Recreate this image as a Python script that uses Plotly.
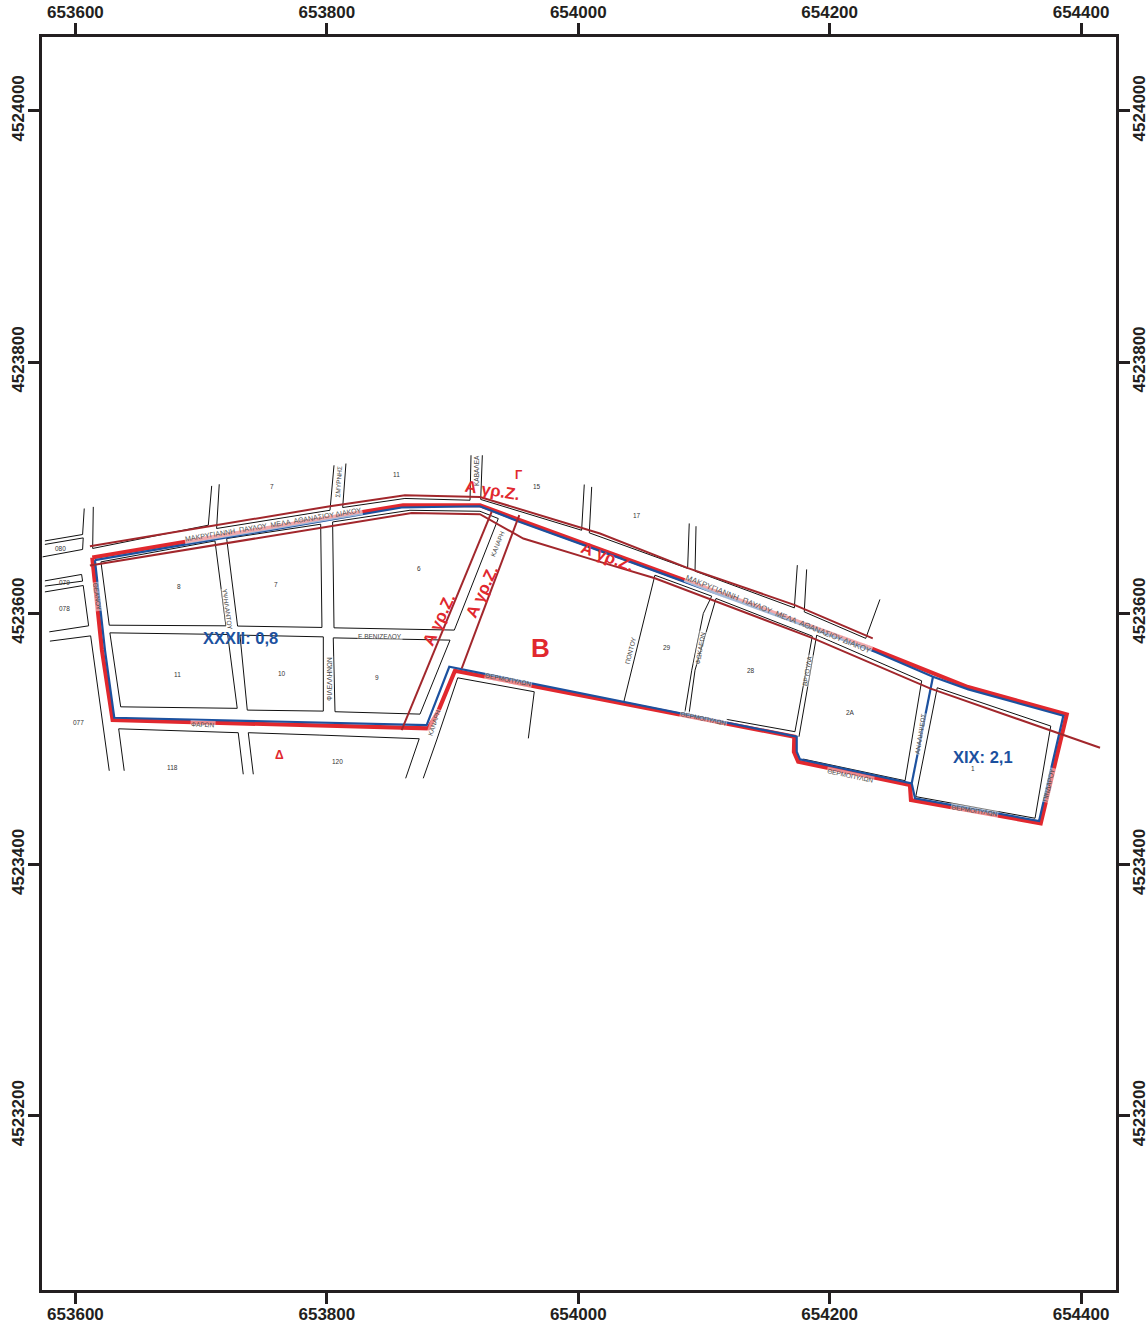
import plotly.graph_objects as go

# ---- map axes (projected metres) ----
X_TICKS = [653600, 653800, 654000, 654200, 654400]
Y_TICKS = [4523200, 4523400, 4523600, 4523800, 4524000]
X_RANGE = [653573.4, 654427.8]
Y_RANGE = [4523061.2, 4524058.8]

# ---- zone boundary (red) ----
RED_X = [653613.4, 653860.6, 653921.8, 653953.6, 654232.1, 654281.4, 654310.1, 654388.6, 654367.9,
         654264.7, 654263.9, 654175.0, 654171.6, 654171.9, 653901.9, 653888.4, 653880.7, 653629.6,
         653621.1, 653613.4]
RED_Y = [4523644.4, 4523686.0, 4523686.0, 4523674.1, 4523572.3, 4523552.4, 4523541.2, 4523519.5, 4523432.8,
         4523451.3, 4523463.3, 4523481.8, 4523489.7, 4523501.7, 4523554.2, 4523521.6, 4523508.4, 4523515.0,
         4523570.7, 4523644.4]

# ---- sector boundary (blue) ----
BLUE_X = [653615.5, 653807.8, 653859.5, 653921.8, 653953.6, 654033.2, 654236.1, 654282.2, 654310.3, 654385.9,
          654366.6, 654267.9, 654265.3, 654176.4, 654173.8, 654173.8, 653897.4, 653879.4, 653630.9, 653623.5,
          653615.5, None, 654282.2, 654265.3]
BLUE_Y = [4523642.3, 4523675.7, 4523684.2, 4523685.2, 4523672.7, 4523643.9, 4523569.3, 4523549.4, 4523539.4, 4523518.4,
          4523434.6, 4523452.7, 4523464.6, 4523483.7, 4523489.7, 4523501.7, 4523557.4, 4523511.0, 4523516.8, 4523570.7,
          4523642.3, None, 4523549.4, 4523464.6]

# ---- zone A strips (dark red) ----
STRIP_X = [
    [653611.5, 653705.7, 653802.5, 653862.1, 653921.8, 654017.3, 654087.3, 654172.4, 654234.3],
    [653611.5, 653794.5, 653867.5, 653921.8, 653956.3, 654017.3, 654061.0, 654187.0, 654240.0, 654279.8, 654415.1],
    [653931.1, 653859.5],
    [653953.1, 653907.3],
]
STRIP_Y = [
    [4523653.4, 4523669.3, 4523685.2, 4523694.0, 4523692.6, 4523663.5, 4523635.9, 4523606.5, 4523580.0],
    [4523638.0, 4523668.0, 4523679.9, 4523678.9, 4523659.5, 4523640.9, 4523627.9, 4523580.0, 4523557.4, 4523540.2, 4523492.9],
    [4523680.7, 4523507.0],
    [4523678.1, 4523556.1],
]

# ---- street blocks (black) ----
BLOCK_X = [
    [653575.7, 653605.7, 653607.0],
    [653573.9, 653605.7, 653606.2, 653575.7],
    [653575.7, 653604.9, 653605.7, 653575.7],
    [653575.7, 653606.2, 653610.5, 653579.2],
    [653579.7, 653612.1, 653626.9],
    [653614.2, 653613.7, 653705.7, 653708.4],
    [653714.4, 653712.3, 653802.5, 653805.7],
    [653815.2, 653812.6, 653862.1, 653913.9, 653914.7],
    [653923.7, 653922.4, 654002.7, 654004.8],
    [654010.7, 654008.8, 654087.0, 654088.3],
    [654093.7, 654092.9, 654171.9, 654174.3],
    [654181.7, 654179.8, 654228.7, 654240.0],
    [653620.3, 653711.0, 653719.7, 653626.9, 653620.3],
    [653720.3, 653795.1, 653796.1, 653729.0, 653720.3],
    [653804.6, 653866.1, 653921.8, 653936.4, 653901.4, 653805.7, 653804.6],
    [653627.4, 653721.1, 653728.7, 653636.0, 653627.4],
    [653730.9, 653797.2, 653797.2, 653736.7, 653730.9],
    [653805.1, 653898.0, 653874.1, 653806.5, 653805.1],
    [653638.8, 653634.4, 653729.5, 653733.5],
    [653741.5, 653737.5, 653794.5, 653873.5, 653862.7],
    [653876.7, 653887.4, 653904.1, 653965.0, 653960.3],
    [654036.4, 654061.0, 654106.2, 654099.5, 654090.3, 654084.9],
    [654088.3, 654092.9, 654109.6, 654186.2, 654172.4, 654118.1],
    [654175.6, 654189.7, 654273.2, 654260.0, 654179.0],
    [654285.6, 654375.9, 654363.4, 654268.5, 654285.6],
]
BLOCK_Y = [
    [4523657.6, 4523662.7, 4523683.4],
    [4523644.9, 4523650.8, 4523660.0, 4523654.8],
    [4523625.8, 4523630.9, 4523625.6, 4523621.6],
    [4523617.0, 4523622.1, 4523590.0, 4523585.2],
    [4523577.8, 4523582.0, 4523474.6],
    [4523684.7, 4523651.6, 4523670.1, 4523701.4],
    [4523702.7, 4523667.5, 4523682.0, 4523717.8],
    [4523719.2, 4523684.2, 4523691.4, 4523690.0, 4523725.8],
    [4523725.8, 4523690.6, 4523666.1, 4523702.5],
    [4523700.6, 4523664.0, 4523635.7, 4523671.5],
    [4523669.3, 4523633.5, 4523604.3, 4523638.3],
    [4523634.9, 4523601.1, 4523580.0, 4523611.0],
    [4523640.9, 4523657.6, 4523590.0, 4523590.5, 4523640.9],
    [4523659.5, 4523670.9, 4523588.7, 4523589.8, 4523659.5],
    [4523672.7, 4523682.0, 4523681.2, 4523675.4, 4523586.6, 4523588.4, 4523672.7],
    [4523584.4, 4523583.1, 4523524.3, 4523525.5, 4523584.4],
    [4523582.6, 4523581.2, 4523522.1, 4523522.9, 4523582.6],
    [4523580.4, 4523578.6, 4523519.7, 4523521.6, 4523580.4],
    [4523474.6, 4523508.0, 4523504.9, 4523471.8],
    [4523471.8, 4523504.9, 4523503.0, 4523500.1, 4523468.6],
    [4523468.6, 4523499.1, 4523548.6, 4523537.5, 4523500.4],
    [4523530.1, 4523630.3, 4523613.6, 4523599.9, 4523554.7, 4523521.6],
    [4523521.1, 4523554.7, 4523611.8, 4523581.8, 4523505.7, 4523515.5],
    [4523501.7, 4523582.6, 4523546.2, 4523466.7, 4523483.9],
    [4523540.7, 4523510.2, 4523436.8, 4523454.0, 4523540.7],
]

# ---- block numbers ----
NUM_TEXT = ["080", "079", "078", "077", "8", "7", "6", "11", "10", "9", "118", "120", "7", "11", "15", "17", "29", "28", "2A", "1"]
NUM_X = [653588.5, 653590.9, 653590.9, 653602.8, 653682.3, 653759.5, 653873.3, 653680.8, 653764.3, 653839.9,
         653677.6, 653808.8, 653756.3, 653855.8, 653967.2, 654046.7, 654070.6, 654137.4, 654216.2, 654314.0]
NUM_Y = [4523651.8, 4523624.8, 4523604.1, 4523513.4, 4523621.6, 4523623.2, 4523635.9, 4523551.6, 4523552.4, 4523549.2,
         4523477.6, 4523482.3, 4523701.1, 4523710.7, 4523701.1, 4523678.1, 4523573.0, 4523554.7, 4523521.3, 4523476.8]

# ---- street names ----
STREET_TEXT = ["ΘΕΑΝΟΥ", "ΥΨΗΛΑΝΤΟΥ", "ΣΜΥΡΝΗΣ", "ΚΑΒΑΛΕΑ", "ΚΑΝΑΡΗ", "Ε.ΒΕΝΙΖΕΛΟΥ", "ΦΙΛΕΛΛΗΝΩΝ", "ΦΑΡΩΝ", "ΚΑΝΑΡΗ",
               "ΘΕΡΜΟΠΥΛΩΝ", "ΘΕΡΜΟΠΥΛΩΝ", "ΘΕΡΜΟΠΥΛΩΝ", "ΘΕΡΜΟΠΥΛΩΝ", "ΠΟΝΤΟΥ", "ΦΩΚΑΕΩΝ", "ΒΡΥΟΥΛΑ", "ΑΝΑΛΗΨΕΩΣ", "ΠΙΝΔΑΡΟΥ"]
STREET_X = [653617.7, 653721.1, 653809.1, 653918.6, 653935.9, 653842.3, 653801.9, 653701.7, 653885.5,
            653944.4, 654100.0, 654216.2, 654315.6, 654041.7, 654096.9, 654182.3, 654271.9, 654374.6]
STREET_Y = [4523613.6, 4523603.1, 4523705.1, 4523714.0, 4523655.5, 4523581.8, 4523548.1, 4523511.5, 4523512.8,
            4523547.6, 4523516.3, 4523471.2, 4523442.8, 4523570.1, 4523572.0, 4523554.2, 4523503.6, 4523463.3]
STREET_ANGLE = [82, 82, -86, -90, -68, 0, -90, 2, -72, 11, 12, 12, 9, -76, -80, -80, -81, -77]

LONG_TEXT = ["ΜΑΚΡΥΓΙΑΝΝΗ  ΠΑΥΛΟΥ  ΜΕΛΑ  ΑΘΑΝΑΣΙΟΥ ΔΙΑΚΟΥ", "ΜΑΚΡΥΓΙΑΝΝΗ  ΠΑΥΛΟΥ  ΜΕΛΑ  ΑΘΑΝΑΣΙΟΥ ΔΙΑΚΟΥ"]
LONG_X = [653757.4, 654159.7]
LONG_Y = [4523670.1, 4523599.3]
LONG_ANGLE = [-9.4, 21.8]
LONG_SIZE = [7.1, 7.9]

# ---- zone labels ----
ZONE_TEXT = ["Α γρ.Ζ.", "Α γρ.Ζ.", "Α γρ.Ζ.", "Α γρ.Ζ.", "Γ", "Β", "Δ"]
ZONE_X = [653931.9, 654022.9, 653889.2, 653923.4, 653952.8, 653970.3, 653762.7]
ZONE_Y = [4523698.5, 4523645.4, 4523595.3, 4523617.6, 4523710.4, 4523572.3, 4523487.1]
ZONE_ANGLE = [9, 21, -65, -65, 0, 0, 0]
ZONE_SIZE = [16.5, 16.5, 16.5, 16.5, 12, 26, 12]

SECTOR_TEXT = ["XXXII: 0,8", "XIX: 2,1"]
SECTOR_X = [653731.7, 654322.0]
SECTOR_Y = [4523580.2, 4523485.5]

RED, BLUE, DARK, INK = "#e1282e", "#1c519f", "#a2272c", "#231f20"
FONT = "Liberation Sans, Arial, sans-serif"

fig = go.Figure()
for bx, by in zip(BLOCK_X, BLOCK_Y):
    fig.add_trace(go.Scatter(x=bx, y=by, mode="lines", line=dict(color="#111111", width=1), hoverinfo="skip"))
fig.add_trace(go.Scatter(x=RED_X, y=RED_Y, mode="lines", line=dict(color=RED, width=4.2), hoverinfo="skip"))
fig.add_trace(go.Scatter(x=BLUE_X, y=BLUE_Y, mode="lines", line=dict(color=BLUE, width=2.2), hoverinfo="skip"))
for sx, sy in zip(STRIP_X, STRIP_Y):
    fig.add_trace(go.Scatter(x=sx, y=sy, mode="lines", line=dict(color=DARK, width=2), hoverinfo="skip"))
# invisible traces keep the mirrored top and right axes alive
fig.add_trace(go.Scatter(x=X_RANGE, y=Y_RANGE, xaxis="x2", yaxis="y2", mode="markers",
                         marker=dict(opacity=0), hoverinfo="skip"))

notes = []
for t, x, y in zip(NUM_TEXT, NUM_X, NUM_Y):
    notes.append(dict(text=t, x=x, y=y, font=dict(size=6.5, color="#333333")))
for t, x, y, a in zip(STREET_TEXT, STREET_X, STREET_Y, STREET_ANGLE):
    notes.append(dict(text=t, x=x, y=y, textangle=a, bgcolor="rgba(255,255,255,0.45)",
                      font=dict(size=6.5, color="#444444")))
for t, x, y, a, s in zip(LONG_TEXT, LONG_X, LONG_Y, LONG_ANGLE, LONG_SIZE):
    notes.append(dict(text=t, x=x, y=y, textangle=a, bgcolor="rgba(255,255,255,0.6)",
                      font=dict(size=s, color="#555555")))
for t, x, y, a, s in zip(ZONE_TEXT, ZONE_X, ZONE_Y, ZONE_ANGLE, ZONE_SIZE):
    notes.append(dict(text=t, x=x, y=y, textangle=a, font=dict(size=s, color=RED, weight="bold")))
for t, x, y in zip(SECTOR_TEXT, SECTOR_X, SECTOR_Y):
    notes.append(dict(text=t, x=x, y=y, font=dict(size=16.5, color=BLUE, weight="bold")))
for n in notes:
    n.update(xref="x", yref="y", showarrow=False, xanchor="center", yanchor="middle", borderpad=0)
    n["font"]["family"] = FONT

axis = dict(showgrid=False, zeroline=False, showline=True, linecolor=INK, linewidth=3, mirror=False,
            ticks="outside", ticklen=11, tickwidth=2.5, tickcolor=INK, automargin=False,
            tickfont=dict(family=FONT, size=17, color=INK, weight="bold"), tickformat="d")
fig.update_layout(
    width=1148, height=1325, showlegend=False, paper_bgcolor="white", plot_bgcolor="white",
    margin=dict(l=42, r=32, t=36.5, b=34.5, autoexpand=False), annotations=notes,
    xaxis=dict(axis, range=X_RANGE, tickvals=X_TICKS, side="bottom", ticklabelstandoff=-4),
    yaxis=dict(axis, range=Y_RANGE, tickvals=Y_TICKS, side="left", tickangle=-90, ticklabelstandoff=-3),
    xaxis2=dict(axis, range=X_RANGE, tickvals=X_TICKS, side="top", overlaying="x", anchor="y2", ticklabelstandoff=-2),
    yaxis2=dict(axis, range=Y_RANGE, tickvals=Y_TICKS, side="right", overlaying="y", anchor="x2", tickangle=-90, ticklabelstandoff=-5),
)
fig.write_html("out.html", post_script="document.body.style.margin='0';", config={"displayModeBar": False})
